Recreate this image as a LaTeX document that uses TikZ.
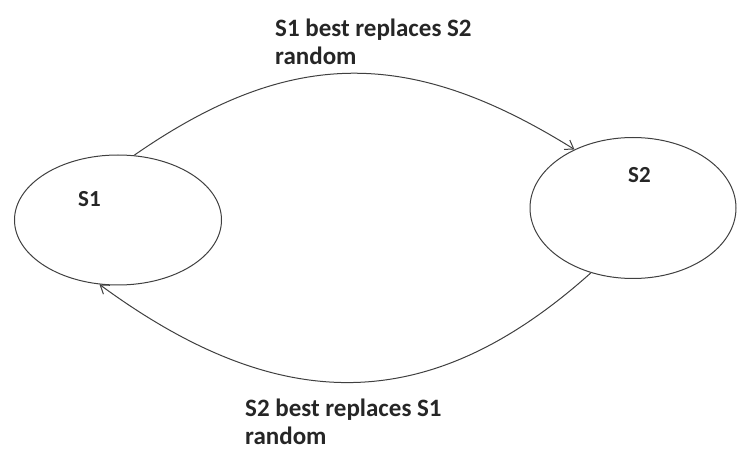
\documentclass[tikz,border=0pt]{standalone}
\usepackage{fontspec}
\setmainfont{Carlito}
\usetikzlibrary{shapes.geometric,arrows.meta}
\begin{document}
\begin{tikzpicture}[x=1pt,y=-1pt,
  state/.style={draw=black!75,line width=1pt,ellipse,inner sep=0pt},
  lbl/.style={font=\fontsize{23}{28}\selectfont\bfseries,text=black!85,inner sep=0pt,anchor=base west},
  elbl/.style={font=\fontsize{25}{28}\selectfont\bfseries,text=black!85,align=left,inner sep=0pt,anchor=north west},
  conn/.style={draw=black!75,line width=1pt,-{Straight Barb[length=8pt,width=11pt]}}]
\useasboundingbox (0,0) rectangle (737,473);
\fill[white] (0,0) rectangle (737,473);
\node[state,minimum width=207pt,minimum height=130pt] (s1) at (118,220) {};
\node[state,minimum width=206pt,minimum height=141pt] (s2) at (633,208) {};
\node[lbl] (t1) at (78,207) {S1};
\node[lbl] (t2) at (628,183) {S2};
\node[elbl] (top) at (275,19) {S1 best replaces S2\\random};
\node[elbl] (bot) at (245,399) {S2 best replaces S1\\random};
\draw[conn] (s1.76) .. controls (290,47) and (410,47) .. (s2.135);
\draw[conn] (s2.237) .. controls (430,417) and (280,417) .. (s1.254);
\end{tikzpicture}
\end{document}
